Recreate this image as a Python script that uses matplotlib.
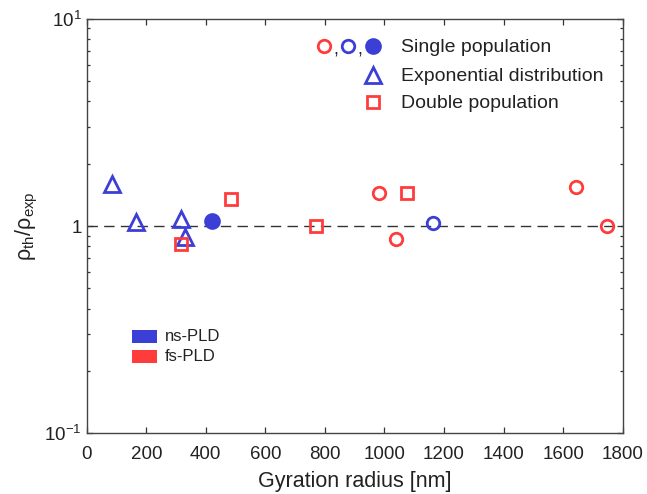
import numpy as np
import matplotlib
matplotlib.use("Agg")
import matplotlib.pyplot as plt
from matplotlib.patches import Rectangle
from matplotlib.ticker import FixedLocator, FixedFormatter, LogLocator, NullFormatter

plt.rcParams["font.family"] = ["Liberation Sans", "DejaVu Sans"]
plt.rcParams["mathtext.fontset"] = "custom"
plt.rcParams["mathtext.rm"] = "Liberation Sans"
plt.rcParams["mathtext.it"] = "Liberation Sans:italic"

RED = "#ff3c3c"
BLUE = "#3b3fd6"

# ns-PLD samples
ns_exp_x = [84, 166, 317, 330]
ns_exp_y = [1.60, 1.046, 1.079, 0.885]
ns_single_filled_x = [420]
ns_single_filled_y = [1.06]
ns_single_open_x = [1164]
ns_single_open_y = [1.03]

# fs-PLD samples
fs_single_x = [983, 1039, 1642, 1748]
fs_single_y = [1.44, 0.865, 1.54, 1.0]
fs_double_x = [316, 485, 770, 1077]
fs_double_y = [0.816, 1.35, 1.0, 1.45]

x_ticks = [0, 200, 400, 600, 800, 1000, 1200, 1400, 1600, 1800]
y_ticks = [0.1, 1, 10]
y_tick_labels = [r"$\mathregular{10^{-1}}$", "1", r"$\mathregular{10^{1}}$"]

fig = plt.figure(figsize=(6.47, 4.94), dpi=100)
ax = fig.add_axes([0.134, 0.123, 0.8284, 0.8385])

ax.axhline(1.0, color="#333333", lw=1.0, dashes=(7.5, 4.5), zorder=1)

mk = dict(linestyle="none", mew=2.0, zorder=3)
ax.plot(ns_exp_x, ns_exp_y, marker="^", ms=11, mfc="none", mec=BLUE, **mk)
ax.plot(ns_single_filled_x, ns_single_filled_y, marker="o", ms=10, mfc=BLUE, mec=BLUE, **mk)
ax.plot(ns_single_open_x, ns_single_open_y, marker="o", ms=9, mfc="none", mec=BLUE, **mk)
ax.plot(fs_single_x, fs_single_y, marker="o", ms=9, mfc="none", mec=RED, **mk)
ax.plot(fs_double_x, fs_double_y, marker="s", ms=8.5, mfc="none", mec=RED, **mk)

ax.set_yscale("log")
ax.set_xlim(0, 1800)
ax.set_ylim(0.1, 10)
ax.xaxis.set_major_locator(FixedLocator(x_ticks))
ax.yaxis.set_major_locator(FixedLocator(y_ticks))
ax.yaxis.set_major_formatter(FixedFormatter(y_tick_labels))
ax.yaxis.set_minor_locator(LogLocator(base=10, subs=np.arange(2, 10)))
ax.yaxis.set_minor_formatter(NullFormatter())

ax.tick_params(which="both", direction="in", top=True, right=True,
               colors="#333333", labelcolor="#222222", labelsize=13.5, width=0.9)
ax.tick_params(which="major", length=4)
ax.tick_params(which="minor", length=2.5)
ax.tick_params(axis="x", pad=9)
for s in ax.spines.values():
    s.set_color("#444444")
    s.set_linewidth(1.0)

ax.set_xlabel("Gyration radius [nm]", fontsize=15.5, color="#222222", labelpad=6)
ax.set_ylabel(r"ρ$_{\mathregular{th}}$/ρ$_{\mathregular{exp}}$", fontsize=15.5,
              color="#222222", labelpad=3)

# symbol key, top right
tr = ax.transAxes
lk = dict(transform=tr, linestyle="none", mew=2.0, clip_on=False)
ax.plot([0.443], [0.935], marker="o", ms=9, mfc="none", mec=RED, **lk)
ax.plot([0.4875], [0.935], marker="o", ms=9, mfc="none", mec=BLUE, **lk)
ax.plot([0.534], [0.935], marker="o", ms=10, mfc=BLUE, mec=BLUE, **lk)
ax.text(0.465, 0.925, ",", transform=tr, fontsize=13, ha="center", va="center", color="#222222")
ax.text(0.510, 0.925, ",", transform=tr, fontsize=13, ha="center", va="center", color="#222222")
ax.plot([0.534], [0.865], marker="^", ms=11, mfc="none", mec=BLUE, **lk)
ax.plot([0.534], [0.800], marker="s", ms=8.5, mfc="none", mec=RED, **lk)

key_text = dict(transform=tr, fontsize=14, ha="left", va="center", color="#222222")
ax.text(0.586, 0.932, "Single population", **key_text)
ax.text(0.586, 0.862, "Exponential distribution", **key_text)
ax.text(0.586, 0.797, "Double population", **key_text)

# colour key, bottom left
ax.add_patch(Rectangle((0.084, 0.217), 0.047, 0.032, transform=tr, color=BLUE, lw=0))
ax.add_patch(Rectangle((0.084, 0.170), 0.047, 0.032, transform=tr, color=RED, lw=0))
ax.text(0.146, 0.234, "ns-PLD", transform=tr, fontsize=12, ha="left", va="center", color="#222222")
ax.text(0.146, 0.186, "fs-PLD", transform=tr, fontsize=12, ha="left", va="center", color="#222222")

fig.savefig("out.png", dpi=100)
